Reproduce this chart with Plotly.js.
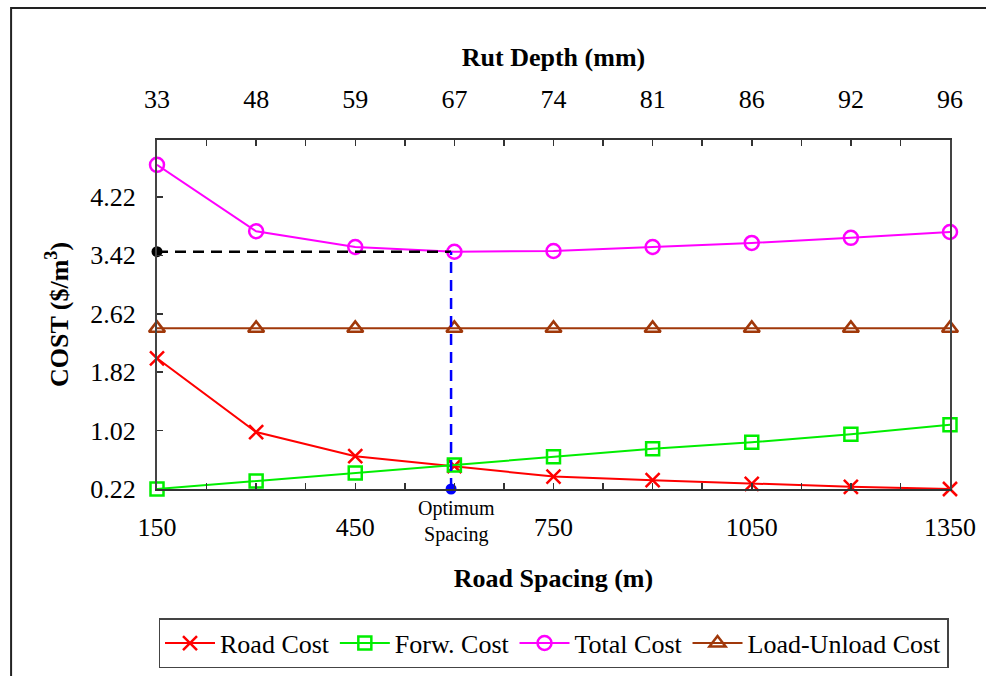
<!DOCTYPE html>
<html>
<head>
<meta charset="utf-8">
<script src="https://cdn.plot.ly/plotly-3.0.1.min.js"></script>
<style>
html,body{margin:0;padding:0;background:#fff;}
#chart{width:986px;height:676px;}
</style>
</head>
<body>
<div id="chart"></div>
<script>
// ---- data ----
const roadSpacing = [150, 300, 450, 600, 750, 900, 1050, 1200, 1350];
const rutDepthLabels = ['33', '48', '59', '67', '74', '81', '86', '92', '96'];
const roadCost = [2.01, 1.00, 0.67, 0.535, 0.39, 0.34, 0.29, 0.25, 0.22];
const forwCost = [0.22, 0.33, 0.44, 0.55, 0.66, 0.77, 0.86, 0.97, 1.10];
const totalCost = [4.66, 3.75, 3.535, 3.47, 3.48, 3.535, 3.59, 3.66, 3.74];
const loadUnloadCost = [2.42, 2.42, 2.42, 2.42, 2.42, 2.42, 2.42, 2.42, 2.42];
const yTickVals = [0.22, 1.02, 1.82, 2.62, 3.42, 4.22];
const xTickVals = [150, 450, 750, 1050, 1350];
const optimumX = 595;
const optimumY = 3.47;
const leftMarkX = 150;
const yMin = 0.22;

const FONT = '"Liberation Serif", "Times New Roman", serif';
const FS = 26;

const traces = [
  {x: roadSpacing, y: roadCost, name: 'Road Cost', mode: 'lines+markers',
   line: {color: '#ff0000', width: 2},
   marker: {symbol: 'x-thin-open', size: 14, color: '#ff0000', line: {color: '#ff0000', width: 2.5}}},
  {x: roadSpacing, y: forwCost, name: 'Forw. Cost', mode: 'lines+markers',
   line: {color: '#00ee00', width: 2},
   marker: {symbol: 'square-open', size: 13, color: '#00ee00', line: {color: '#00ee00', width: 2.5}}},
  {x: roadSpacing, y: totalCost, name: 'Total Cost', mode: 'lines+markers',
   line: {color: '#ff00ff', width: 2},
   marker: {symbol: 'circle-open', size: 14, color: '#ff00ff', line: {color: '#ff00ff', width: 2.5}}},
  {x: roadSpacing, y: loadUnloadCost, name: 'Load-Unload Cost', mode: 'lines+markers',
   line: {color: '#a0380a', width: 2},
   marker: {symbol: 'triangle-up-open', size: 14, color: '#a0380a', line: {color: '#a0380a', width: 2.5}}},
  // optimum guides
  {x: [leftMarkX, optimumX], y: [optimumY, optimumY], mode: 'lines', showlegend: false,
   line: {color: '#000', width: 2.5, dash: '11px,7px'}, hoverinfo: 'skip'},
  {x: [leftMarkX], y: [optimumY], mode: 'markers', showlegend: false,
   marker: {color: '#000', size: 11}, hoverinfo: 'skip'},
  {x: [optimumX, optimumX], y: [yMin, optimumY], mode: 'lines', showlegend: false,
   line: {color: '#0000ff', width: 2.5, dash: '11px,7px'}, hoverinfo: 'skip'},
  {x: [optimumX], y: [yMin], mode: 'markers', showlegend: false,
   marker: {color: '#0000ff', size: 11}, hoverinfo: 'skip'},
  // invisible trace carrying the top axis
  {x: roadSpacing, y: totalCost, xaxis: 'x2', mode: 'markers', showlegend: false,
   marker: {opacity: 0}, hoverinfo: 'skip'}
];
traces.forEach(t => { t.cliponaxis = false; });

const minorX = [225, 375, 525, 675, 825, 975, 1125, 1275];

const layout = {
  width: 986, height: 676,
  margin: {l: 157, r: 36, t: 140, b: 187, autoexpand: false},
  paper_bgcolor: '#fff', plot_bgcolor: '#fff',
  font: {family: FONT, size: FS, color: '#000'},
  showlegend: true,
  xaxis: {
    range: [150, 1350], tickvals: xTickVals, ticktext: xTickVals.map(String),
    ticks: 'inside', ticklen: 6, tickcolor: '#333', tickwidth: 1.5,
    minor: {tickvals: roadSpacing.concat(minorX), ticks: 'inside', ticklen: 6, tickcolor: '#333', tickwidth: 1.5},
    showline: true, linecolor: '#333', linewidth: 2, mirror: false,
    showgrid: false, zeroline: false, ticklabelstandoff: 14,
    tickfont: {family: FONT, size: FS},
    title: {text: '<b>Road Spacing (m)</b>', font: {family: FONT, size: FS}, standoff: 28}
  },
  xaxis2: {
    overlaying: 'x', side: 'top', matches: 'x', range: [150, 1350],
    tickvals: roadSpacing, ticktext: rutDepthLabels,
    ticks: 'inside', ticklen: 6, tickcolor: '#333', tickwidth: 1.5,
    minor: {tickvals: minorX, ticks: 'inside', ticklen: 6, tickcolor: '#333', tickwidth: 1.5},
    showline: true, linecolor: '#333', linewidth: 2,
    showgrid: false, zeroline: false, ticklabelstandoff: 20,
    tickfont: {family: FONT, size: FS},
    title: {text: '<b>Rut Depth (mm)</b>', font: {family: FONT, size: FS}, standoff: 10}
  },
  yaxis: {
    range: [0.22, 5.0], tickvals: yTickVals, ticktext: yTickVals.map(v => v.toFixed(2)),
    ticks: 'inside', ticklen: 6, tickcolor: '#333', tickwidth: 1.5,
    showline: true, linecolor: '#444', linewidth: 2, mirror: true,
    showgrid: false, zeroline: false, ticklabelstandoff: 14,
    tickfont: {family: FONT, size: FS},
    title: {text: '<b>COST ($/m<sup>3</sup>)</b>', font: {family: FONT, size: FS}, standoff: 14}
  },
  legend: {
    orientation: 'h', x: 0.5, xanchor: 'center', y: -0.37, yanchor: 'top',
    bordercolor: '#444', borderwidth: 1.5, bgcolor: '#fff',
    font: {family: FONT, size: FS}, itemwidth: 50, tracegroupgap: 0
  },
  annotations: [
    {x: optimumX, y: yMin, xref: 'x', yref: 'y', text: 'Optimum<br>Spacing', showarrow: false,
     yanchor: 'top', xanchor: 'center', yshift: -6, xshift: 5,
     font: {family: FONT, size: 20, color: '#000'}}
  ],
  shapes: [
    {type: 'rect', xref: 'paper', yref: 'paper', x0: -0.184, x1: 1.3, y0: -1.0, y1: 1.378,
     line: {color: '#222', width: 2}, fillcolor: 'rgba(0,0,0,0)', layer: 'below'}
  ]
};

Plotly.newPlot('chart', traces, layout, {displayModeBar: false, staticPlot: true});
</script>
</body>
</html>
